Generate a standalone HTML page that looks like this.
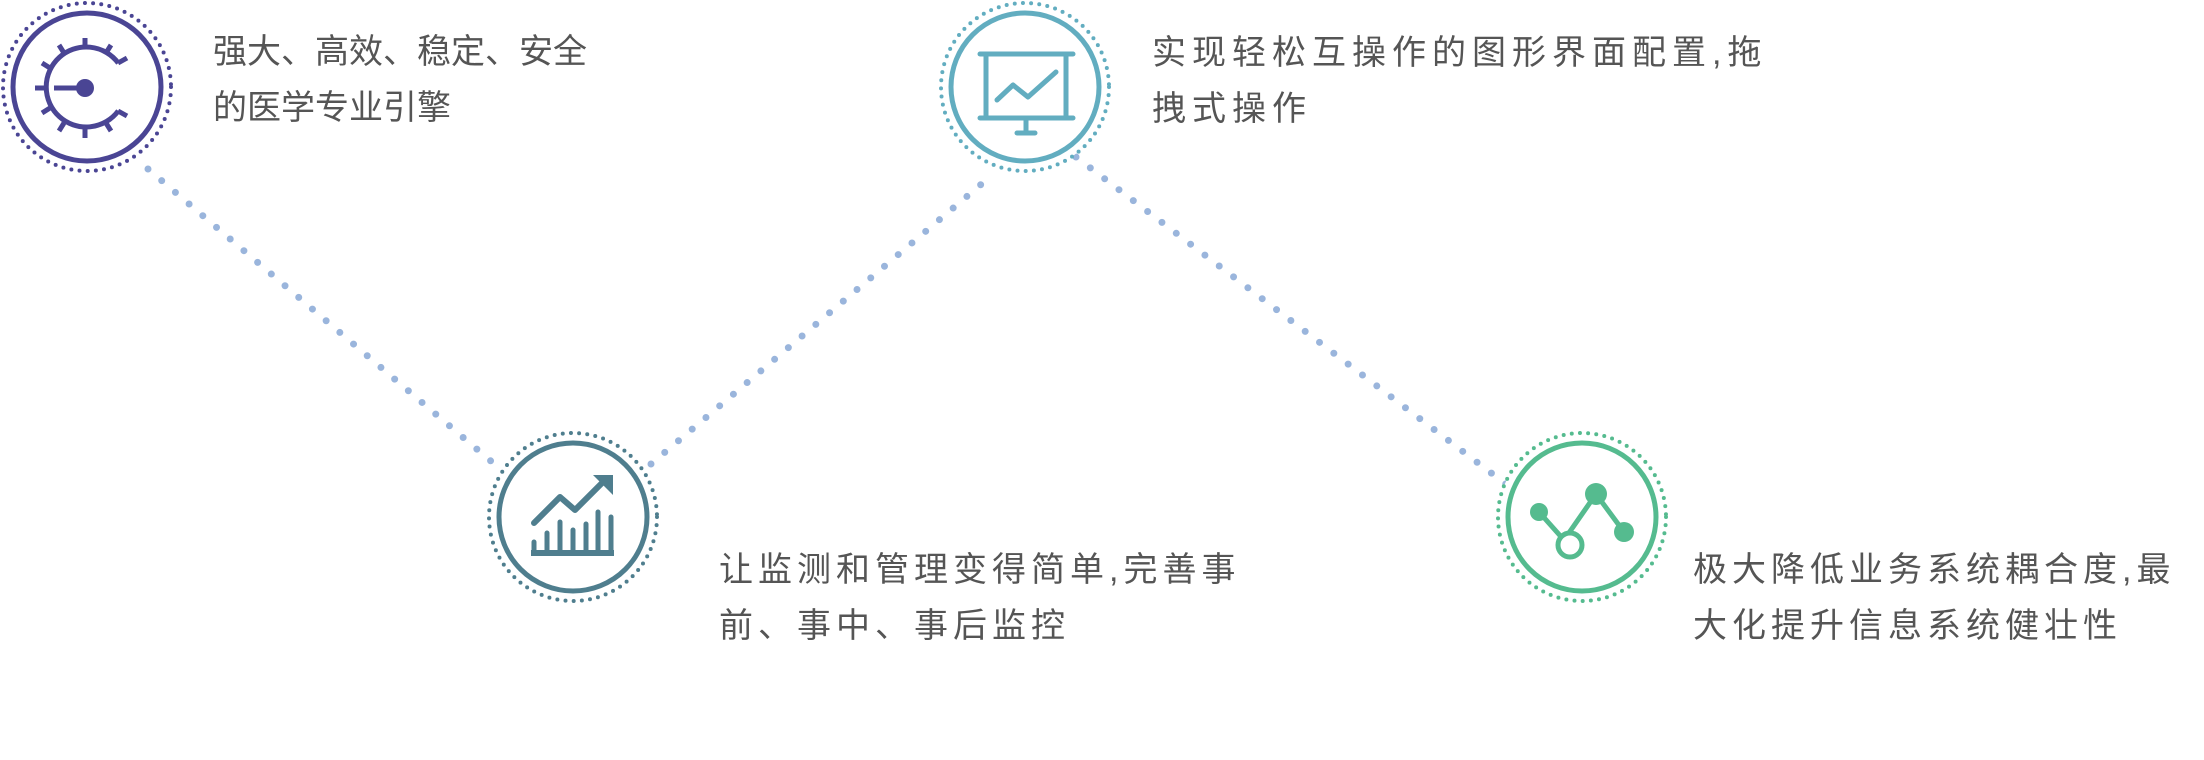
<!DOCTYPE html>
<html><head><meta charset="utf-8"><style>
html,body{margin:0;padding:0;background:#fff;}
body{width:2204px;height:760px;position:relative;overflow:hidden;}
.t{position:absolute;font-family:"Liberation Sans","Noto Sans CJK SC",sans-serif;font-size:34px;line-height:56px;color:#555;white-space:nowrap;}
</style></head><body>
<svg width="2204" height="760" style="position:absolute;left:0;top:0">
<g stroke="#9ab5dc" stroke-width="7" stroke-linecap="round" stroke-dasharray="0 18" fill="none">
<line x1="148" y1="169" x2="499" y2="468"/>
<line x1="651" y1="464" x2="991" y2="176"/>
<line x1="1076" y1="157" x2="1507" y2="485"/>
</g>
<g fill="none" stroke="#4a4594">
<circle cx="87" cy="87" r="84" stroke-width="4" stroke-linecap="round" stroke-dasharray="0 8.2" fill="#fff"/>
<circle cx="87" cy="87" r="74" stroke-width="5"/>
<path d="M 118.3 63.1 A 40 40 0 1 0 118.3 110.9" stroke-width="5"/>
<g stroke-width="5">
<line x1="46" y1="88" x2="35" y2="88"/>
<line x1="85" y1="48" x2="85" y2="38"/>
<line x1="85" y1="128" x2="85" y2="138"/>
<line x1="64" y1="53" x2="59" y2="45"/>
<line x1="106" y1="53" x2="111" y2="45"/>
<line x1="64" y1="123" x2="59" y2="131"/>
<line x1="106" y1="123" x2="111" y2="131"/>
<line x1="50" y1="68" x2="42" y2="63"/>
<line x1="50" y1="108" x2="42" y2="113"/>
<line x1="118" y1="63" x2="127" y2="58"/>
<line x1="118" y1="111" x2="127" y2="116"/>
<line x1="54" y1="88" x2="80" y2="88"/>
</g>
</g>
<circle cx="85" cy="88" r="9" fill="#4a4594"/>
<g fill="none" stroke="#4f7e8e">
<circle cx="573" cy="517" r="84" stroke-width="4" stroke-linecap="round" stroke-dasharray="0 8.2" fill="#fff"/>
<circle cx="573" cy="517" r="74" stroke-width="5"/>
<polyline points="534,523 560,497 575,510 603,482" stroke-width="6" stroke-linecap="round" stroke-linejoin="round"/>
<g stroke-width="5" stroke-linecap="round">
<line x1="534" y1="553" x2="534" y2="542"/>
<line x1="547" y1="553" x2="547" y2="533"/>
<line x1="560" y1="553" x2="560" y2="522"/>
<line x1="573" y1="553" x2="573" y2="530"/>
<line x1="586" y1="553" x2="586" y2="524"/>
<line x1="598" y1="553" x2="598" y2="512"/>
<line x1="611" y1="553" x2="611" y2="517"/>
</g>
</g>
<rect x="531" y="550" width="83" height="6" fill="#4f7e8e"/>
<polygon points="593,475 613,475 613,495" fill="#4f7e8e"/>
<g fill="none" stroke="#62adc0">
<circle cx="1025" cy="87" r="84" stroke-width="4" stroke-linecap="round" stroke-dasharray="0 8.2" fill="#fff"/>
<circle cx="1025" cy="87" r="74" stroke-width="5"/>
<g stroke-width="5" stroke-linecap="round">
<line x1="980" y1="54" x2="1073" y2="54"/>
<line x1="980" y1="118" x2="1073" y2="118"/>
<line x1="986" y1="54" x2="986" y2="118"/>
<line x1="1066" y1="54" x2="1066" y2="118"/>
<line x1="1026" y1="118" x2="1026" y2="133"/>
<line x1="1017" y1="133" x2="1035" y2="133"/>
<polyline points="997,100 1013,85 1028,97 1056,72" stroke-linejoin="round"/>
</g>
</g>
<g fill="none" stroke="#55bb8f">
<circle cx="1582" cy="517" r="84" stroke-width="4" stroke-linecap="round" stroke-dasharray="0 8.2" fill="#fff"/>
<circle cx="1582" cy="517" r="74" stroke-width="5"/>
<polyline points="1539,512 1564,540 1596,494 1624,532" stroke-width="5"/>
<circle cx="1570" cy="545" r="12" stroke-width="5" fill="#fff"/>
</g>
<g fill="#55bb8f">
<circle cx="1539" cy="512" r="9"/>
<circle cx="1596" cy="494" r="11"/>
<circle cx="1624" cy="532" r="10"/>
</g>
</svg>
<div class="t" style="left:213px;top:24px;">强大、高效、稳定、安全<br>的医学专业引擎</div>
<div class="t" style="left:1152px;top:25px;letter-spacing:6px;">实现轻松互操作的图形界面配置,拖<br>拽式操作</div>
<div class="t" style="left:719px;top:542px;letter-spacing:5px;">让监测和管理变得简单,完善事<br>前、事中、事后监控</div>
<div class="t" style="left:1693px;top:542px;letter-spacing:5px;">极大降低业务系统耦合度,最<br>大化提升信息系统健壮性</div>
</body></html>
